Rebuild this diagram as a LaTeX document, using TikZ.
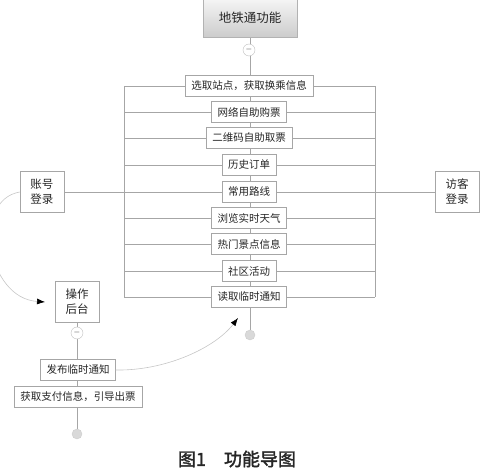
\documentclass[tikz,border=0pt]{standalone}
\usepackage{fontspec}
\setmainfont[AutoFakeBold=2]{Noto Sans CJK SC}
\usepackage{tikz}
\usetikzlibrary{arrows.meta}
\usetikzlibrary{backgrounds}

\begin{document}
\begin{tikzpicture}[x=1pt, y=-1pt,
  every node/.style={draw=gray!70, fill=white, text=black!85, inner sep=0pt},
  item/.style={minimum height=21pt, inner xsep=6pt, font=\fontsize{10.5}{12}\selectfont},
  login/.style={minimum width=44pt, minimum height=41pt, align=center, font=\fontsize{11.5}{15}\selectfont},
  topbox/.style={minimum width=94pt, minimum height=38pt, top color=gray!8, bottom color=gray!40, draw=gray!60, font=\fontsize{12.5}{14}\selectfont},
  fold/.style={circle, minimum size=12pt, draw=gray!50, font=\fontsize{8}{8}\selectfont},
  tail/.style={circle, minimum size=10pt, draw=gray!40, fill=gray!30},
  link/.style={draw=gray!70, line width=0.7pt},
  curvearrow/.style={draw=gray!45, line width=0.6pt, -{Latex[length=8pt, width=6pt, black]}}]
\useasboundingbox (0,0) rectangle (499,470);

\node[topbox] (top) at (250,18) {地铁通功能};
\node[fold] (fold1) at (249,50) {$-$};
\foreach \name/\y/\txt in {i1/86/选取站点，获取换乘信息, i2/112/网络自助购票, i3/138/二维码自助取票,
  i4/165/历史订单, i5/192/常用路线, i6/218/浏览实时天气, i7/244/热门景点信息,
  i8/271/社区活动, i9/297/读取临时通知}
{
  \node[item] (\name) at (249,\y) {\txt};
  \coordinate (L\name) at (124,\y);
  \coordinate (R\name) at (375,\y);
}
\node[tail] (tail1) at (250,335) {};

\node[login] (acct) at (42,192) {账号\\登录};
\node[login] (guest) at (457,192) {访客\\登录};
\node[login] (ops) at (77,302) {操作\\后台};
\node[fold] (fold2) at (77,333) {$-$};
\node[item] (notice) at (78,370) {发布临时通知};
\node[item] (pay) at (78,397) {获取支付信息，引导出票};
\node[tail] (tail2) at (77,434) {};

\coordinate (tip1) at (45,302);
\coordinate (tip2) at (238,318);

\begin{scope}[on background layer]
\draw[link] (top) -- (tail1);
\draw[link] (ops) -- (tail2);
\foreach \name in {i1,i2,i3,i4,i5,i6,i7,i8,i9}
  \draw[link] (L\name) -- (R\name);
\draw[link] (Li1) -- (Li9);
\draw[link] (Ri1) -- (Ri9);
\draw[link] (acct) -- (Li5);
\draw[link] (guest) -- (Ri5);
\end{scope}

\draw[curvearrow] (acct.west) .. controls (-28,200) and (-14,298) .. (tip1);
\draw[curvearrow] (notice.east) .. controls (165,371) and (215,348) .. (tip2);

\node[draw=none, fill=none, font=\fontsize{18}{18}\selectfont\bfseries] (caption) at (237,459) {图1\quad 功能导图};
\end{tikzpicture}
\end{document}
